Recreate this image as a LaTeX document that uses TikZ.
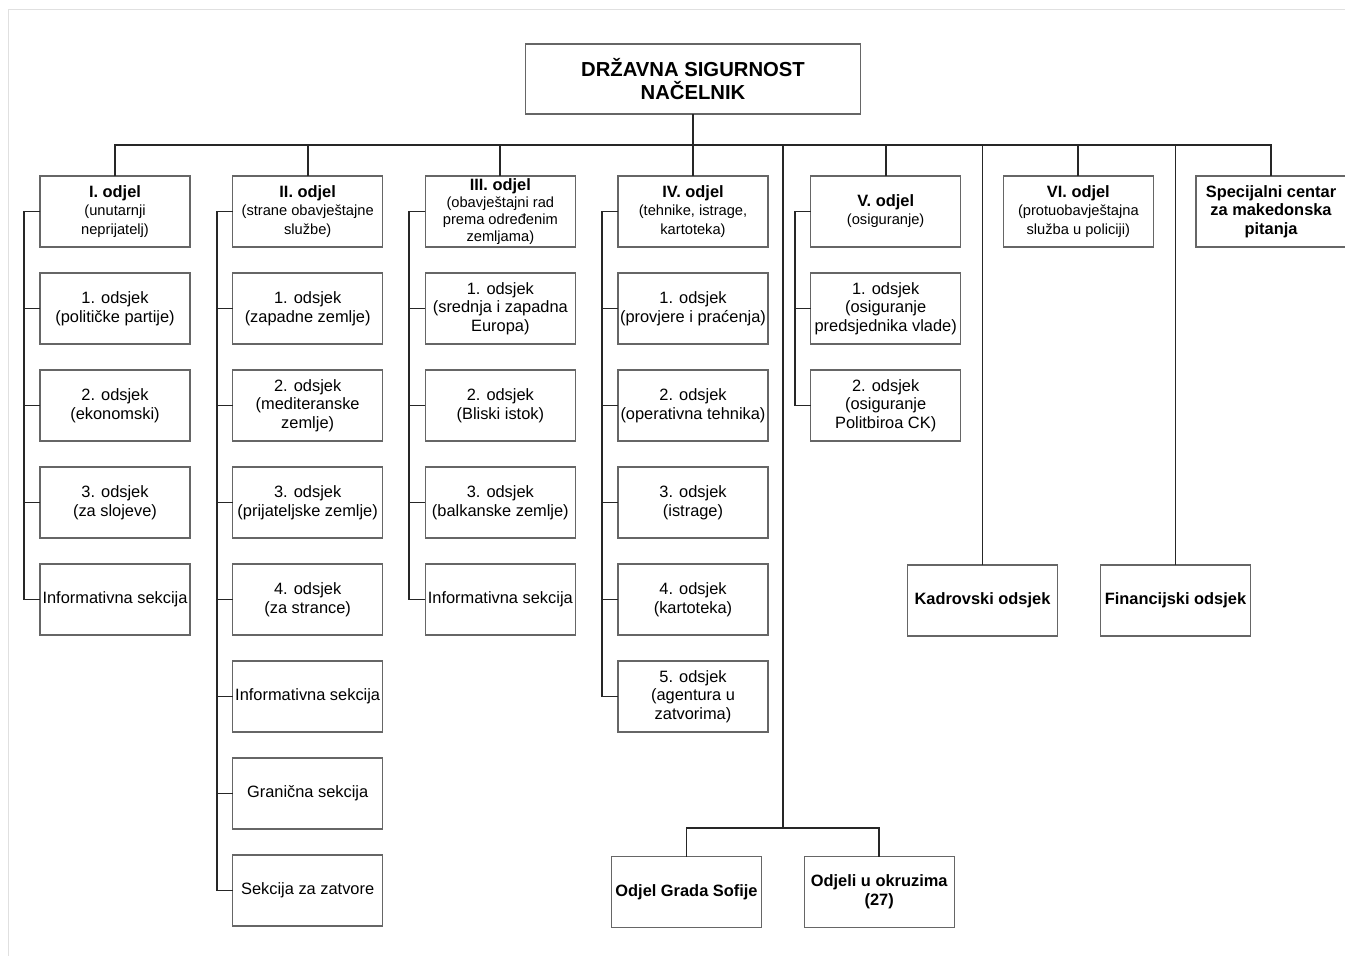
\documentclass[tikz,border=0pt]{standalone}
\usepackage{fontspec}
\setmainfont{Liberation Sans}
\usepackage{tikz}
\usetikzlibrary{positioning}
\newcommand{\odjel}[1]{{\fontsize{12.3}{13.9}\selectfont\bfseries #1}}

\begin{document}
\begin{tikzpicture}[x=0.75pt,y=-0.75pt]
\tikzset{basic/.style={draw=black!60,line width=0.9pt,fill=white,minimum width=112.5pt,minimum height=53.25pt,inner sep=0pt,outer sep=0pt,align=center,font=\fontsize{12.3}{13.9}\selectfont}}
\tikzset{chief/.style={basic,minimum width=251.25pt,minimum height=52.5pt,font=\fontsize{15.2}{17.3}\selectfont\bfseries}}
\tikzset{head/.style={basic,font=\fontsize{11}{13.6}\selectfont}}
\tikzset{unit/.style={basic,below=19.5pt of #1}}
\tikzset{office/.style={basic,font=\fontsize{12.3}{13.9}\selectfont\bfseries}}
\tikzset{link/.style={draw=black!85,line width=1.4pt}}
        \useasboundingbox (0,0) rectangle (1345,956);
        \path[draw=black!12,line width=0.75pt] (8,956) -- (8,10) -- (1345,10);
        \node[chief] (chief) at (693,79) {DRŽAVNA SIGURNOST\\NAČELNIK};
        \node[head] (o1) at (115,211.5) {\odjel{I. odjel}\\(unutarnji\\neprijatelj)};
        \node[head,right=32pt of o1] (o2) {\odjel{II. odjel}\\(strane obavještajne\\službe)};
        \node[head,right=32pt of o2,font=\fontsize{11}{12.75}\selectfont] (o3) {\odjel{III. odjel}\\(obavještajni rad\\prema određenim\\zemljama)};
        \node[head,right=32pt of o3] (o4) {\odjel{IV. odjel}\\(tehnike, istrage,\\kartoteka)};
        \node[head,right=32pt of o4] (o5) {\odjel{V. odjel}\\(osiguranje)};
        \node[head,right=32pt of o5] (o6) {\odjel{VI. odjel}\\(protuobavještajna\\služba u policiji)};
        \node[office,right=32pt of o6] (o7) {Specijalni centar\\za makedonska\\pitanja};
        \coordinate (bus) at (693,145);
            \path[link] (chief) -- (o4);
            \path[link] (o1.north) |- (bus) -| (o7.north);
            \foreach \n in {o2,o3,o5,o6} \path[link] (\n.north) -- (\n.north |- bus);
        % I. odjel
        \node[unit=o1] (o1s1) {1. odsjek\\(političke partije)};
        \node[unit=o1s1] (o1s2) {2. odsjek\\(ekonomski)};
        \node[unit=o1s2] (o1s3) {3. odsjek\\(za slojeve)};
        \node[unit=o1s3] (o1s4) {Informativna sekcija};
        \coordinate[left=12pt of o1.west] (r1);
            \foreach \n in {o1s1,o1s2,o1s3,o1s4} \path[link] (o1.west) -- (r1) |- (\n.west);
        % II. odjel
        \node[unit=o2] (o2s1) {1. odsjek\\(zapadne zemlje)};
        \node[unit=o2s1] (o2s2) {2. odsjek\\(mediteranske\\zemlje)};
        \node[unit=o2s2] (o2s3) {3. odsjek\\(prijateljske zemlje)};
        \node[unit=o2s3] (o2s4) {4. odsjek\\(za strance)};
        \node[unit=o2s4] (o2s5) {Informativna sekcija};
        \node[unit=o2s5] (o2s6) {Granična sekcija};
        \node[unit=o2s6] (o2s7) {Sekcija za zatvore};
        \coordinate[left=12pt of o2.west] (r2);
            \foreach \n in {o2s1,o2s2,o2s3,o2s4,o2s5,o2s6,o2s7} \path[link] (o2.west) -- (r2) |- (\n.west);
        % III. odjel
        \node[unit=o3] (o3s1) {1. odsjek\\(srednja i zapadna\\Europa)};
        \node[unit=o3s1] (o3s2) {2. odsjek\\(Bliski istok)};
        \node[unit=o3s2] (o3s3) {3. odsjek\\(balkanske zemlje)};
        \node[unit=o3s3] (o3s4) {Informativna sekcija};
        \coordinate[left=12pt of o3.west] (r3);
            \foreach \n in {o3s1,o3s2,o3s3,o3s4} \path[link] (o3.west) -- (r3) |- (\n.west);
        % IV. odjel
        \node[unit=o4] (o4s1) {1. odsjek\\(provjere i praćenja)};
        \node[unit=o4s1] (o4s2) {2. odsjek\\(operativna tehnika)};
        \node[unit=o4s2] (o4s3) {3. odsjek\\(istrage)};
        \node[unit=o4s3] (o4s4) {4. odsjek\\(kartoteka)};
        \node[unit=o4s4] (o4s5) {5. odsjek\\(agentura u\\zatvorima)};
        \coordinate[left=12pt of o4.west] (r4);
            \foreach \n in {o4s1,o4s2,o4s3,o4s4,o4s5} \path[link] (o4.west) -- (r4) |- (\n.west);
        % V. odjel
        \node[unit=o5] (o5s1) {1. odsjek\\(osiguranje\\predsjednika vlade)};
        \node[unit=o5s1] (o5s2) {2. odsjek\\(osiguranje\\Politbiroa CK)};
        \coordinate[left=12pt of o5.west] (r5);
            \foreach \n in {o5s1,o5s2} \path[link] (o5.west) -- (r5) |- (\n.west);
        % odsjeci i okruzi
        \node[office] (kadr) at (982.5,600.5) {Kadrovski odsjek};
        \node[office] (fin) at (1175.5,600.5) {Financijski odsjek};
            \path[link] (kadr.north) -- (kadr.north |- bus);
            \path[link] (fin.north) -- (fin.north |- bus);
        \node[office] (sofija) at (686.5,892) {Odjel Grada Sofije};
        \node[office,right=32pt of sofija] (okruzi) {Odjeli u okruzima\\(27)};
        \coordinate (split) at (783,828);
            \path[link] (split |- bus) -- (split);
            \path[link] (sofija.north) |- (split) -| (okruzi.north);
\end{tikzpicture}
\end{document}
